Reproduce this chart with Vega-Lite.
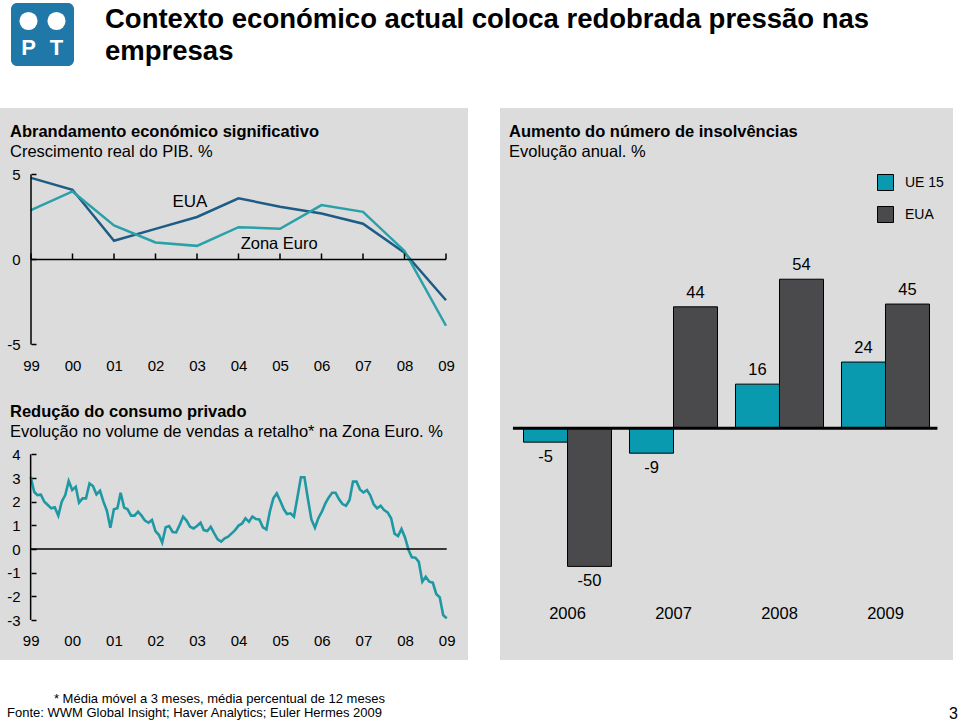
{
  "$schema": "https://vega.github.io/schema/vega-lite/v6.json",
  "background": "white",
  "padding": 0,
  "spacing": 0,
  "resolve": {"scale": {"color": "independent"}, "legend": {"color": "independent"}},
  "config": {
    "view": {"stroke": null},
    "font": "Liberation Sans",
    "title": {"font": "Liberation Sans", "color": "#000", "anchor": "start", "frame": "group", "subtitleFont": "Liberation Sans", "subtitleColor": "#000"},
    "axis": {"labelFont": "Liberation Sans", "labelColor": "#000", "grid": false, "domain": false, "title": null, "labelOverlap": false}
  },
  "datasets": {
    "gdp": [
      {"year": 1999, "series": "EUA", "v": 4.8}, {"year": 2000, "series": "EUA", "v": 4.1}, {"year": 2001, "series": "EUA", "v": 1.1},
      {"year": 2002, "series": "EUA", "v": 1.8}, {"year": 2003, "series": "EUA", "v": 2.5}, {"year": 2004, "series": "EUA", "v": 3.6},
      {"year": 2005, "series": "EUA", "v": 3.1}, {"year": 2006, "series": "EUA", "v": 2.7}, {"year": 2007, "series": "EUA", "v": 2.1},
      {"year": 2008, "series": "EUA", "v": 0.4}, {"year": 2009, "series": "EUA", "v": -2.4},
      {"year": 1999, "series": "Zona Euro", "v": 2.9}, {"year": 2000, "series": "Zona Euro", "v": 4.0}, {"year": 2001, "series": "Zona Euro", "v": 2.0},
      {"year": 2002, "series": "Zona Euro", "v": 1.0}, {"year": 2003, "series": "Zona Euro", "v": 0.8}, {"year": 2004, "series": "Zona Euro", "v": 1.9},
      {"year": 2005, "series": "Zona Euro", "v": 1.8}, {"year": 2006, "series": "Zona Euro", "v": 3.2}, {"year": 2007, "series": "Zona Euro", "v": 2.8},
      {"year": 2008, "series": "Zona Euro", "v": 0.5}, {"year": 2009, "series": "Zona Euro", "v": -3.9}
    ],
    "retail": [
      {"date": "1999-01-01", "v": 3.05}, {"date": "1999-02-01", "v": 2.42}, {"date": "1999-03-01", "v": 2.28}, {"date": "1999-04-01", "v": 2.3},
      {"date": "1999-05-01", "v": 2.0}, {"date": "1999-06-01", "v": 1.86}, {"date": "1999-07-01", "v": 1.72}, {"date": "1999-08-01", "v": 1.76},
      {"date": "1999-09-01", "v": 1.41}, {"date": "1999-10-01", "v": 2.0}, {"date": "1999-11-01", "v": 2.28}, {"date": "1999-12-01", "v": 2.87},
      {"date": "2000-01-01", "v": 2.49}, {"date": "2000-02-01", "v": 2.63}, {"date": "2000-03-01", "v": 1.96}, {"date": "2000-04-01", "v": 2.14},
      {"date": "2000-05-01", "v": 2.14}, {"date": "2000-06-01", "v": 2.77}, {"date": "2000-07-01", "v": 2.66}, {"date": "2000-08-01", "v": 2.31},
      {"date": "2000-09-01", "v": 2.46}, {"date": "2000-10-01", "v": 2.0}, {"date": "2000-11-01", "v": 1.61}, {"date": "2000-12-01", "v": 0.9},
      {"date": "2001-01-01", "v": 1.68}, {"date": "2001-02-01", "v": 1.72}, {"date": "2001-03-01", "v": 2.38}, {"date": "2001-04-01", "v": 1.75},
      {"date": "2001-05-01", "v": 1.68}, {"date": "2001-06-01", "v": 1.41}, {"date": "2001-07-01", "v": 1.41}, {"date": "2001-08-01", "v": 1.58},
      {"date": "2001-09-01", "v": 1.41}, {"date": "2001-10-01", "v": 1.2}, {"date": "2001-11-01", "v": 1.11}, {"date": "2001-12-01", "v": 1.23},
      {"date": "2002-01-01", "v": 0.76}, {"date": "2002-02-01", "v": 0.59}, {"date": "2002-03-01", "v": 0.27}, {"date": "2002-04-01", "v": 0.92},
      {"date": "2002-05-01", "v": 0.97}, {"date": "2002-06-01", "v": 0.72}, {"date": "2002-07-01", "v": 0.7}, {"date": "2002-08-01", "v": 1.01},
      {"date": "2002-09-01", "v": 1.37}, {"date": "2002-10-01", "v": 1.2}, {"date": "2002-11-01", "v": 0.94}, {"date": "2002-12-01", "v": 0.87},
      {"date": "2003-01-01", "v": 0.97}, {"date": "2003-02-01", "v": 1.11}, {"date": "2003-03-01", "v": 0.8}, {"date": "2003-04-01", "v": 0.76},
      {"date": "2003-05-01", "v": 0.94}, {"date": "2003-06-01", "v": 0.66}, {"date": "2003-07-01", "v": 0.41}, {"date": "2003-08-01", "v": 0.31},
      {"date": "2003-09-01", "v": 0.45}, {"date": "2003-10-01", "v": 0.52}, {"date": "2003-11-01", "v": 0.66}, {"date": "2003-12-01", "v": 0.8},
      {"date": "2004-01-01", "v": 0.99}, {"date": "2004-02-01", "v": 1.08}, {"date": "2004-03-01", "v": 1.3}, {"date": "2004-04-01", "v": 1.15},
      {"date": "2004-05-01", "v": 1.37}, {"date": "2004-06-01", "v": 1.27}, {"date": "2004-07-01", "v": 1.25}, {"date": "2004-08-01", "v": 0.92},
      {"date": "2004-09-01", "v": 0.83}, {"date": "2004-10-01", "v": 1.58}, {"date": "2004-11-01", "v": 2.14}, {"date": "2004-12-01", "v": 2.35},
      {"date": "2005-01-01", "v": 2.03}, {"date": "2005-02-01", "v": 1.68}, {"date": "2005-03-01", "v": 1.48}, {"date": "2005-04-01", "v": 1.51},
      {"date": "2005-05-01", "v": 1.37}, {"date": "2005-06-01", "v": 2.2}, {"date": "2005-07-01", "v": 3.03}, {"date": "2005-08-01", "v": 3.03},
      {"date": "2005-09-01", "v": 2.1}, {"date": "2005-10-01", "v": 1.25}, {"date": "2005-11-01", "v": 0.9}, {"date": "2005-12-01", "v": 1.3},
      {"date": "2006-01-01", "v": 1.58}, {"date": "2006-02-01", "v": 1.93}, {"date": "2006-03-01", "v": 2.17}, {"date": "2006-04-01", "v": 2.38},
      {"date": "2006-05-01", "v": 2.38}, {"date": "2006-06-01", "v": 2.1}, {"date": "2006-07-01", "v": 1.9}, {"date": "2006-08-01", "v": 1.83},
      {"date": "2006-09-01", "v": 2.07}, {"date": "2006-10-01", "v": 2.85}, {"date": "2006-11-01", "v": 2.85}, {"date": "2006-12-01", "v": 2.52},
      {"date": "2007-01-01", "v": 2.39}, {"date": "2007-02-01", "v": 2.49}, {"date": "2007-03-01", "v": 2.28}, {"date": "2007-04-01", "v": 1.89},
      {"date": "2007-05-01", "v": 1.72}, {"date": "2007-06-01", "v": 1.83}, {"date": "2007-07-01", "v": 1.65}, {"date": "2007-08-01", "v": 1.55},
      {"date": "2007-09-01", "v": 1.3}, {"date": "2007-10-01", "v": 0.65}, {"date": "2007-11-01", "v": 0.55}, {"date": "2007-12-01", "v": 0.85},
      {"date": "2008-01-01", "v": 0.49}, {"date": "2008-02-01", "v": -0.04}, {"date": "2008-03-01", "v": -0.35}, {"date": "2008-04-01", "v": -0.37},
      {"date": "2008-05-01", "v": -0.54}, {"date": "2008-06-01", "v": -1.38}, {"date": "2008-07-01", "v": -1.17}, {"date": "2008-08-01", "v": -1.38},
      {"date": "2008-09-01", "v": -1.42}, {"date": "2008-10-01", "v": -1.9}, {"date": "2008-11-01", "v": -2.04}, {"date": "2008-12-01", "v": -2.79},
      {"date": "2009-01-01", "v": -2.93}
    ],
    "insol": [
      {"year": "2006", "series": "UE 15", "value": -5}, {"year": "2006", "series": "EUA", "value": -50},
      {"year": "2007", "series": "UE 15", "value": -9}, {"year": "2007", "series": "EUA", "value": 44},
      {"year": "2008", "series": "UE 15", "value": 16}, {"year": "2008", "series": "EUA", "value": 54},
      {"year": "2009", "series": "UE 15", "value": 24}, {"year": "2009", "series": "EUA", "value": 45}
    ]
  },
  "vconcat": [
    {
      "hconcat": [
        {"width": 11, "height": 108, "data": {"values": []}, "mark": "point"},
        {
          "vconcat": [
            {"width": 63, "height": 3, "data": {"values": []}, "mark": "point"},
            {
              "width": 63, "height": 63,
              "view": {"fill": "#1f78a8", "cornerRadius": 6, "stroke": null},
              "data": {"values": [{"letter": "P"}, {"letter": "T"}]},
              "encoding": {"x": {"field": "letter", "type": "nominal", "axis": null, "scale": {"type": "point", "padding": 0.625}}},
              "layer": [
                {"mark": {"type": "point", "shape": "circle", "filled": true, "color": "white", "size": 330, "opacity": 1},
                 "encoding": {"y": {"datum": "circle", "type": "nominal", "axis": null, "scale": {"type": "point", "domain": ["circle", "letter"], "padding": 0.67}}}},
                {"mark": {"type": "text", "color": "white", "fontSize": 22, "fontWeight": "bold", "baseline": "middle"},
                 "encoding": {"y": {"datum": "letter", "type": "nominal"}, "text": {"field": "letter"}}}
              ]
            }
          ],
          "spacing": 0
        },
        {
          "width": 886, "height": 108, "data": {"values": []}, "mark": "point",
          "title": {"text": ["Contexto económico actual coloca redobrada pressão nas", "empresas"], "fontSize": 27.5, "fontWeight": "bold", "lineHeight": 31.5, "dx": 31, "offset": -65}
        }
      ],
      "spacing": 0
    },
    {
      "hconcat": [
        {
          "vconcat": [
            {
              "width": 468, "height": 282,
              "view": {"fill": "#dcdcdc", "stroke": null},
              "title": {"text": "Abrandamento económico significativo", "subtitle": "Crescimento real do PIB. %", "fontSize": 16.5, "fontWeight": "bold", "subtitleFontSize": 16.5, "subtitlePadding": 3, "dx": 10, "offset": -52},
              "data": {"name": "gdp"},
              "layer": [
                {
                  "mark": {"type": "line", "strokeWidth": 2.5},
                  "encoding": {
                    "x": {"field": "year", "type": "quantitative", "scale": {"domain": [1998.253, 2009.53], "nice": false, "zero": false},
                          "axis": {"orient": "bottom", "values": [1999, 2000, 2001, 2002, 2003, 2004, 2005, 2006, 2007, 2008, 2009], "tickCount": 20, "labelExpr": "slice(toString(datum.value), 2)", "offset": -32, "ticks": false, "labelPadding": 0, "labelFontSize": 15, "labelOverlap": false}},
                    "y": {"field": "v", "type": "quantitative", "scale": {"domain": [-7.68, 8.91], "nice": false, "zero": false},
                          "axis": {"values": [-5, 0, 5], "tickCount": 10, "labelExpr": "toString(datum.value)", "offset": -31, "ticks": true, "tickSize": -5, "tickColor": "#000", "tickWidth": 1.5, "labelPadding": 16, "labelFontSize": 15, "labelOverlap": false}},
                    "color": {"field": "series", "type": "nominal", "scale": {"domain": ["EUA", "Zona Euro"], "range": ["#1c5c85", "#2aa0a8"]}, "legend": null}
                  }
                },
                {"data": {"values": [{}]}, "mark": {"type": "rule", "color": "#000", "strokeWidth": 1.5},
                 "encoding": {"x": {"datum": 1999, "type": "quantitative"}, "x2": {"datum": 2009}, "y": {"datum": 0, "type": "quantitative"}}},
                {"data": {"values": [{}]}, "mark": {"type": "rule", "color": "#000", "strokeWidth": 1.5},
                 "encoding": {"x": {"datum": 1999, "type": "quantitative"}, "y": {"datum": -5, "type": "quantitative"}, "y2": {"datum": 5}}},
                {"transform": [{"filter": "datum.series === 'EUA'"}], "mark": {"type": "rule", "color": "#000", "strokeWidth": 1.5},
                 "encoding": {"x": {"field": "year", "type": "quantitative"}, "y": {"datum": 0, "type": "quantitative"}, "y2": {"datum": 0.35}}},
                {"data": {"values": [{"label": "EUA"}]}, "mark": {"type": "text", "fontSize": 17, "color": "#000", "align": "center", "baseline": "middle"},
                 "encoding": {"x": {"datum": 2002.83, "type": "quantitative"}, "y": {"datum": 3.38, "type": "quantitative"}, "text": {"field": "label"}}},
                {"data": {"values": [{"label": "Zona Euro"}]}, "mark": {"type": "text", "fontSize": 16.5, "color": "#000", "align": "center", "baseline": "middle"},
                 "encoding": {"x": {"datum": 2004.98, "type": "quantitative"}, "y": {"datum": 0.91, "type": "quantitative"}, "text": {"field": "label"}}}
              ]
            },
            {
              "width": 468, "height": 270,
              "view": {"fill": "#dcdcdc", "stroke": null},
              "title": {"text": "Redução do consumo privado", "subtitle": "Evolução no volume de vendas a retalho* na Zona Euro. %", "fontSize": 16.5, "fontWeight": "bold", "subtitleFontSize": 16.5, "subtitlePadding": 3, "dx": 10, "offset": -50},
              "data": {"name": "retail"},
              "layer": [
                {
                  "mark": {"type": "line", "strokeWidth": 2.6, "color": "#1e98a3"},
                  "encoding": {
                    "x": {"field": "date", "type": "temporal", "scale": {"type": "utc", "domain": [{"year": 1998, "month": 4, "date": 7, "utc": true}, {"year": 2009, "month": 7, "date": 7, "utc": true}], "nice": false},
                          "axis": {"orient": "bottom", "values": [{"year": 1999, "utc": true}, {"year": 2000, "utc": true}, {"year": 2001, "utc": true}, {"year": 2002, "utc": true}, {"year": 2003, "utc": true}, {"year": 2004, "utc": true}, {"year": 2005, "utc": true}, {"year": 2006, "utc": true}, {"year": 2007, "utc": true}, {"year": 2008, "utc": true}, {"year": 2009, "utc": true}], "tickCount": 20, "format": "%y", "offset": -27, "ticks": false, "labelPadding": 0, "labelFontSize": 15, "labelOverlap": false}},
                    "y": {"field": "v", "type": "quantitative", "scale": {"domain": [-4.69, 6.72], "nice": false, "zero": false},
                          "axis": {"values": [-3, -2, -1, 0, 1, 2, 3, 4], "tickCount": 12, "labelExpr": "toString(datum.value)", "offset": -31, "ticks": true, "tickSize": -5, "tickColor": "#000", "tickWidth": 1.5, "labelPadding": 16, "labelFontSize": 15, "labelOverlap": false}}
                  }
                },
                {"data": {"values": [{}]}, "mark": {"type": "rule", "color": "#000", "strokeWidth": 1.5},
                 "encoding": {"x": {"datum": {"year": 1999, "utc": true}, "type": "temporal"}, "x2": {"datum": {"year": 2009, "utc": true}}, "y": {"datum": 0, "type": "quantitative"}}},
                {"data": {"values": [{}]}, "mark": {"type": "rule", "color": "#000", "strokeWidth": 1.5},
                 "encoding": {"x": {"datum": {"year": 1999, "utc": true}, "type": "temporal"}, "y": {"datum": -3, "type": "quantitative"}, "y2": {"datum": 4}}}
              ]
            }
          ],
          "spacing": 0
        },
        {
          "width": 453, "height": 552,
          "view": {"fill": "#dcdcdc", "stroke": null},
          "title": {"text": "Aumento do número de insolvências", "subtitle": "Evolução anual. %", "fontSize": 16.5, "fontWeight": "bold", "subtitleFontSize": 16.5, "subtitlePadding": 3, "dx": 9, "offset": -52},
          "data": {"name": "insol"},
          "encoding": {
            "x": {"field": "year", "type": "nominal", "scale": {"paddingInner": 0.1698, "paddingOuter": 0.2217},
                  "axis": {"orient": "bottom", "labelAngle": 0, "offset": -55, "ticks": false, "labelPadding": 0, "labelFontSize": 16.5}}
          },
          "layer": [
            {
              "mark": {"type": "bar", "stroke": "#000", "strokeWidth": 1},
              "encoding": {
                "xOffset": {"field": "series", "type": "nominal", "sort": ["UE 15", "EUA"], "scale": {"paddingInner": 0, "paddingOuter": 0}},
                "y": {"field": "value", "type": "quantitative", "scale": {"domain": [-83.9, 116], "nice": false, "zero": false}, "axis": null},
                "color": {"field": "series", "type": "nominal", "scale": {"domain": ["UE 15", "EUA"], "range": ["#0a9aaf", "#4a4a4c"]},
                          "legend": {"orient": "none", "legendX": 377, "legendY": 66, "title": null, "symbolType": "square", "symbolSize": 256, "symbolStrokeColor": "#000", "symbolStrokeWidth": 1, "symbolOpacity": 1, "labelFontSize": 14, "labelFont": "Liberation Sans", "labelColor": "#000", "rowPadding": 11, "labelOffset": 11, "padding": 0}}
              }
            },
            {"data": {"values": [{}]}, "mark": {"type": "rule", "color": "#000", "strokeWidth": 3},
             "encoding": {"x": {"datum": "2006", "bandPosition": -0.12}, "x2": {"datum": "2009", "bandPosition": 1.09}, "y": {"datum": 0, "type": "quantitative"}}},
            {"transform": [{"filter": "datum.value > 0"}], "mark": {"type": "text", "fontSize": 16.5, "color": "#000", "baseline": "bottom", "dy": -6},
             "encoding": {"xOffset": {"field": "series", "type": "nominal", "sort": ["UE 15", "EUA"]}, "y": {"field": "value", "type": "quantitative"}, "text": {"field": "value", "type": "nominal"}}},
            {"transform": [{"filter": "datum.value < 0"}], "mark": {"type": "text", "fontSize": 16.5, "color": "#000", "baseline": "top", "dy": 7},
             "encoding": {"xOffset": {"field": "series", "type": "nominal", "sort": ["UE 15", "EUA"]}, "y": {"field": "value", "type": "quantitative"}, "text": {"field": "value", "type": "nominal"}}}
          ]
        }
      ],
      "spacing": 32,
      "resolve": {"scale": {"color": "independent"}, "legend": {"color": "independent"}}
    },
    {
      "hconcat": [
        {
          "width": 900, "height": 62, "data": {"values": []}, "mark": "point",
          "title": {"text": ["\u200b\u00a0\u00a0\u00a0\u00a0\u00a0\u00a0\u00a0\u00a0\u00a0\u00a0\u00a0\u00a0\u00a0* Média móvel a 3 meses, média percentual de 12 meses", "Fonte: WWM Global Insight; Haver Analytics; Euler Hermes 2009"], "fontSize": 13, "fontWeight": "normal", "lineHeight": 14, "dx": 7, "offset": -60}
        },
        {
          "width": 60, "height": 62, "data": {"values": []}, "mark": "point",
          "title": {"text": "3", "anchor": "end", "fontSize": 16, "fontWeight": "normal", "dx": -2, "offset": -62}
        }
      ],
      "spacing": 0
    }
  ]
}
